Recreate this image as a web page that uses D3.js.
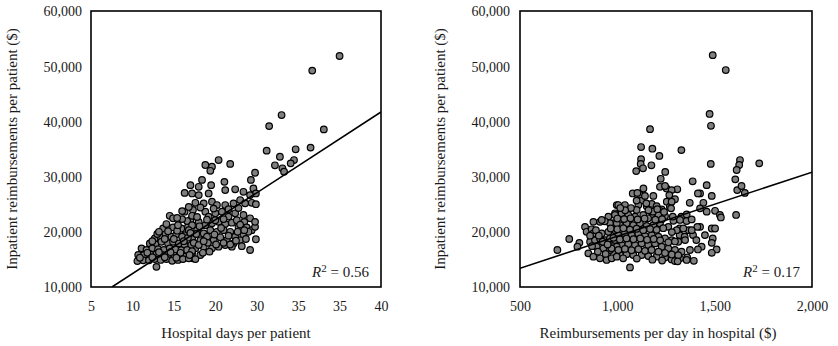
<!DOCTYPE html>
<html><head><meta charset="utf-8">
<script src="https://cdn.jsdelivr.net/npm/d3@7"></script>
<style>
body{margin:0;background:#fff}
text{font-family:"Liberation Serif","DejaVu Serif",serif;fill:#1a1a1a}
</style>
</head><body>
<svg id="chart" width="838" height="346"></svg>
<script>
// ---------- data ----------
const yTicks = [10000, 20000, 30000, 40000, 50000, 60000];
const leftXTicks = [5, 10, 15, 20, 25, 30, 35, 40];
const leftXTickLabels = ["5", "10", "15", "20", "30", "35", "35", "40"];
const rightXTicks = [500, 1000, 1500, 2000];
const leftXTitle = "Hospital days per patient";
const rightXTitle = "Reimbursements per day in hospital ($)";
const yTitle = "Inpatient reimbursements per patient ($)";
const leftR2 = "0.56";
const rightR2 = "0.17";
// regression lines (endpoints in data units)
const leftFitX = [7.53, 40];
const leftFitY = [10000, 41700];
const rightFitX = [500, 2000];
const rightFitY = [13400, 30800];

// [hospital days per patient, reimbursements per patient]
const leftPoints = [
[35.0,51850],[31.7,49200],[28.0,41150],[26.5,39150],[33.1,38550],[26.2,34700],[29.7,34950],[31.5,35250],
[27.8,33600],[29.5,33000],[29.1,32400],[27.2,32050],[28.1,31500],[28.3,30900],[24.8,30700],[24.3,29400],
[18.8,32100],[19.6,31800],[20.4,33000],[19.4,31050],[21.8,32300],[18.4,29400],[19.5,28450],[21.1,29050],
[17.0,28450],[18.0,28150],[19.2,26950],[21.2,27550],[22.4,27700],[23.4,27250],[24.6,27850],[24.9,26950],
[24.2,26650],[16.3,27050],[17.2,26950],[18.0,26650],[17.6,25250],[18.6,25150],[19.6,25450],[20.2,24850],
[21.2,24850],[22.2,25150],[23.0,25750],[23.6,25150],[24.4,25250],[24.9,25000],
[16.3,23650],[17.3,23950],[18.8,23650],[19.2,22750],[20.0,23350],[20.8,23650],[21.6,22750],[22.4,23350],
[23.4,23050],[24.2,22450],[23.5,21800],[17.0,22150],[18.0,21800],[18.8,21200],[19.6,21550],[20.4,21800],
[21.2,21400],[22.0,21650],[22.8,20900],[23.8,20800],[24.4,20300],[24.8,20900],[24.8,21800],[16.7,20900],
[17.8,20300],[18.6,19700],[19.4,20300],[20.2,20000],[21.0,20300],[21.8,20000],[22.4,19100],[23.4,19400],
[24.0,20000],[16.3,19400],[17.2,18800],[18.2,18500],[19.0,19100],[19.8,18500],[20.6,19000],[21.4,18500],
[22.2,17900],[23.0,18500],[16.7,17300],[17.6,17000],[18.6,17300],[19.6,17000],[20.4,17300],[21.2,17600],
[22.0,17300],[24.9,18650],[24.2,16700],[17.2,16100],[18.2,15800],[16.3,15500],[17.3,15200],
[14.5,22900],[14.9,22450],[16.0,23750],[16.6,21950],[17.2,22900],[17.2,21200],[13.7,20600],[14.9,20800],
[15.9,20600],[16.8,20300],[12.7,18800],[13.4,19100],[14.0,19550],[14.7,19100],[15.3,19550],[16.0,19100],
[16.7,18900],[12.1,17900],[12.8,17700],[13.5,18200],[14.3,17900],[14.9,18200],[15.6,17900],[16.3,17700],
[17.1,17600],[11.1,17000],[11.7,16700],[12.4,17000],[13.1,16850],[13.8,16700],[14.5,17000],[15.2,16800],
[15.9,16650],[16.6,16700],[17.2,16500],[10.7,15800],[11.4,15800],[12.2,15900],[12.9,16000],[13.6,15800],
[14.3,15900],[15.1,15650],[15.7,15800],[10.6,14700],[11.3,14850],[12.0,14850],[12.7,15050],[13.4,14900],
[14.1,15050],[14.8,14750],[15.5,14900],[16.1,15050],[16.8,15200],[12.9,13650],[17.6,15050],
[11.8,16200],[13.2,16300],[14.6,16300],[15.8,16200],[10.9,15300],[12.4,15400],[13.9,15400],[15.3,15300],
[16.9,15800],[12.4,18300],[13.0,19600],[13.9,18700],[15.0,18700],[16.2,18300],[14.3,20100],[15.4,20200],
[15.5,21200],[16.0,22300],[13.2,20000],[14.1,21400],[17.7,19600],[18.1,21000],[19.0,22200],[20.0,22100],
[21.0,22300],[22.6,22100],[23.0,21300],[19.9,19500],[20.7,20700],[21.6,19300],[22.7,20000],[23.5,20300],
[17.4,18000],[18.0,17600],[19.1,18000],[20.1,17700],[21.0,18000],[21.8,17700],[17.0,19800],[18.6,18300],
[19.3,16400],[22.5,18400],[23.7,18700],[23.2,17400],[18.5,16200],[17.8,22700],[19.8,24200],[21.6,24100],
[22.8,24300],[18.2,24400],[15.4,22500],[16.8,24500]
];

// [reimbursements per day in hospital, reimbursements per patient]
const rightPoints = [
[1490,52000],[1557,49300],[1474,41350],[1481,39200],[1168,38600],[1122,35350],[1180,35050],[1329,34800],
[1216,33750],[1122,33150],[1120,32300],[1132,31500],[1175,32050],[1097,31000],[1246,30850],[1223,29600],
[1387,29150],[1459,28450],[1480,32300],[1134,27850],[1219,28150],[1253,27850],[1308,27700],
[1630,33000],[1626,32100],[1613,31200],[1729,32400],[1606,29500],[1616,27550],[1638,28300],[1655,27050],
[1425,26950],[1485,26500],[1442,25250],[1459,23650],[1502,23800],[1527,23050],[1532,22600],[1610,23050],
[1425,24250],[1485,20600],[1502,20600],[1425,20900],[1450,19400],[1490,18800],[1485,18000],[1433,17300],
[1510,16800],[1485,16200],
[1414,26950],[1372,25250],[1329,22750],[1356,21950],[1411,20900],[1367,20300],[1320,20600],[1320,19400],
[1346,19100],[1389,19400],[1406,18500],[1414,16800],[1359,15350],[1393,14750],
[1245,28300],[1279,27550],[1267,26650],[1296,25900],[1254,25450],[1270,24550],[1228,24050],[1185,26500],
[1120,26650],[1079,26950],[1125,25650],[1108,24850],[1099,23950],[1151,24650],[1177,25050],[1202,24650],
[1219,23800],[1356,23150],[1382,22250],
[997,24850],[1039,24850],
[988,23350],[1022,23350],[1056,23050],[1091,22750],[1133,23050],[1177,22750],[1211,23050],[1245,22850],[1288,22000],[1322,22150],
[979,21550],[1014,21200],[1048,21550],[1082,21200],[1116,21550],[1151,21050],[1185,21200],[1219,21550],[1262,20900],[1305,20300],[1339,20600],[1382,20300],
[971,19700],[1005,19400],[1039,19700],[1074,19400],[1108,19700],[1142,19250],[1177,19400],[1211,19100],[1245,18800],[1279,18500],[1313,18200],[1348,18500],
[988,17900],[1022,17600],[1056,17800],[1091,17600],[1125,17900],[1159,17600],[1194,17900],[1228,17300],[1262,17000],[1296,16700],[1330,16400],[1373,16700],
[979,16100],[1014,15800],[1048,15950],[1082,15800],[1125,15800],[1159,15600],[1202,15500],[1245,15350],[1279,15000],[1322,15200],[1356,14900],
[1065,13550],[1296,14700],
[692,16700],[753,18700],[805,18000],[795,17300],[834,20900],[842,20000],[868,20450],[860,18200],[885,18500],
[911,18800],[937,18500],[962,18800],[988,18500],[851,16100],[877,15500],[911,15200],[945,14900],[971,15200],
[997,15500],[894,17300],[928,17000],[962,16700],[997,17300],[877,19700],[920,19700],[954,20000],[988,20300],
[911,21800],[954,22750],[988,23050],[1005,24850],[962,21550],[997,21550],
[935,21900],[1099,25650],[1142,26500],[1279,25450],[1103,27050],[1149,25150],[1183,23650],[1276,24250],
[1285,22750],[1158,22450],[877,21800],[920,22150],
[1000,22400],[1035,22300],[1068,22450],[1104,22250],[1140,22400],[1195,22200],[1230,22300],
[966,20600],[1000,20450],[1031,20650],[1065,20400],[1099,20550],[1133,20300],[1168,20500],[1202,20350],[1236,20650],[1280,19950],
[980,18900],[1013,18600],[1047,18800],[1083,18650],[1118,18800],[1153,18550],[1187,18700],[1220,18450],[1262,18100],[1296,18250],
[970,17000],[1005,16700],[1039,16900],[1073,16650],[1108,16850],[1142,16550],[1176,16700],[1211,16400],[1245,16150],[1280,15900],[1313,15750],
[1030,15200],[1100,15150],[1180,14950],[1230,14800],[1310,14650],
[860,19300],[890,20300],[905,19300],[925,18200],[870,17400],[900,16400],[940,16000],[950,17700],
[1070,24300],[1040,23900],[1015,24300],[1160,23900],[1240,23600],[1205,24100]
];

// ---------- drawing ----------
const svg = d3.select("#chart");
const fmt = d3.format(",");

function panel(cfg) {
  const x = d3.scaleLinear().domain(cfg.xDomain).range([cfg.left, cfg.right]);
  const y = d3.scaleLinear().domain([10000, 60000]).range([287, 11]);
  const g = svg.append("g");

  const clipId = "clip" + cfg.id;
  svg.append("clipPath").attr("id", clipId).append("rect")
    .attr("x", cfg.left).attr("y", 11).attr("width", cfg.right - cfg.left).attr("height", 276);

  const ya = d3.axisLeft(y).tickValues(yTicks).tickSize(0).tickPadding(cfg.yPad).tickFormat(fmt);
  const yg = g.append("g").attr("transform", `translate(${cfg.left},0)`).call(ya);
  yg.select(".domain").remove();
  yg.selectAll("text").attr("font-size", 14).attr("font-family", "Liberation Serif").attr("fill", "#1a1a1a").attr("dy", "0.35em");

  const xa = d3.axisBottom(x).tickValues(cfg.xTicks).tickSize(0).tickPadding(14)
    .tickFormat((d, i) => cfg.xLabels ? cfg.xLabels[i] : fmt(d));
  const xg = g.append("g").attr("transform", `translate(0,287)`).call(xa);
  xg.select(".domain").remove();
  xg.selectAll("text").attr("font-size", 14).attr("font-family", "Liberation Serif").attr("fill", "#1a1a1a");

  g.append("g").attr("clip-path", `url(#${clipId})`).selectAll("circle").data(cfg.points).join("circle")
    .attr("cx", d => x(d[0])).attr("cy", d => y(d[1])).attr("r", 3.3)
    .attr("fill", "#7f7f7f").attr("stroke", "#000").attr("stroke-width", 1.2);

  const lineData = cfg.fitX.map((v, i) => [v, cfg.fitY[i]]);
  g.append("path").attr("clip-path", `url(#${clipId})`)
    .attr("d", d3.line().x(d => x(d[0])).y(d => y(d[1]))(lineData))
    .attr("fill", "none").attr("stroke", "#000").attr("stroke-width", 1.6);

  g.append("rect").attr("x", cfg.left).attr("y", 11).attr("width", cfg.right - cfg.left).attr("height", 276)
    .attr("fill", "none").attr("stroke", "#000").attr("stroke-width", 1.6);

  const t = g.append("text").attr("x", cfg.right - 12).attr("y", 277).attr("text-anchor", "end").attr("font-size", 15);
  t.append("tspan").attr("font-style", "italic").text("R");
  t.append("tspan").attr("dy", -5).attr("font-size", 11).text("2");
  t.append("tspan").attr("dy", 5).text(" = " + cfg.r2);

  g.append("text").attr("x", cfg.xTitleX).attr("y", 338).attr("text-anchor", "middle").attr("font-size", 15).text(cfg.xTitle);
  g.append("text").attr("transform", `translate(${cfg.yTitleX},149) rotate(-90)`).attr("text-anchor", "middle")
    .attr("font-size", 15).text(yTitle);
}

panel({id: "L", left: 91, right: 381, xDomain: [5, 40], xTicks: leftXTicks, xLabels: leftXTickLabels,
  points: leftPoints, fitX: leftFitX, fitY: leftFitY, r2: leftR2, yPad: 9, xTitle: leftXTitle, xTitleX: 236, yTitleX: 17});
panel({id: "R", left: 520, right: 812, xDomain: [500, 2000], xTicks: rightXTicks, xLabels: null,
  points: rightPoints, fitX: rightFitX, fitY: rightFitY, r2: rightR2, yPad: 10, xTitle: rightXTitle, xTitleX: 658, yTitleX: 445});
</script>
</body></html>
